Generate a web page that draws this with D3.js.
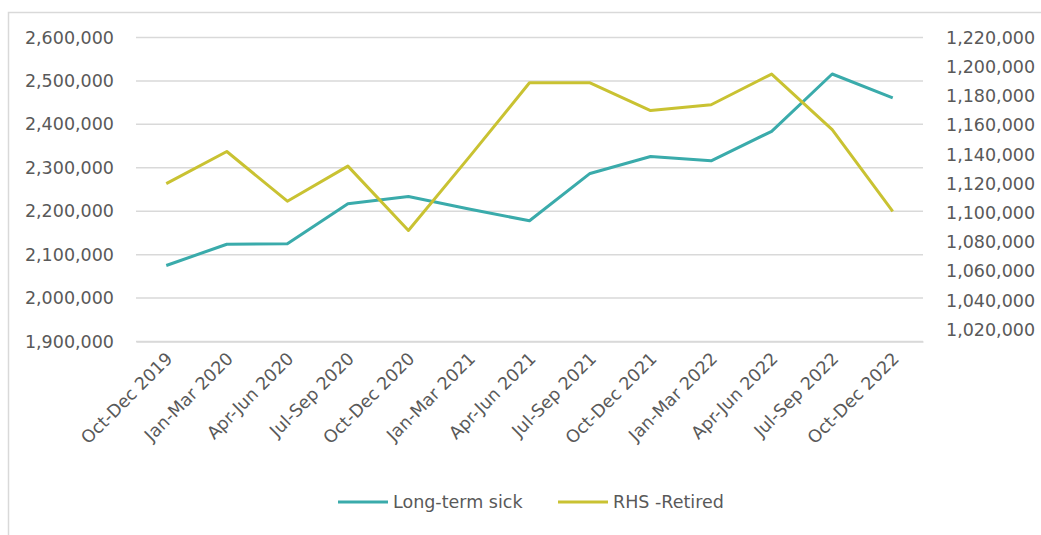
<!DOCTYPE html>
<html>
<head>
<meta charset="utf-8">
<script src="https://cdn.jsdelivr.net/npm/d3@7"></script>
<style>
  html, body { margin: 0; padding: 0; background: #fff; }
  svg { display: block; }
  text { font-family: "DejaVu Sans", sans-serif; fill: #595959; }
</style>
</head>
<body>
<svg id="chart" width="1041" height="535"></svg>
<script>
// Quarterly periods
const quarters = [
  "Oct-Dec 2019", "Jan-Mar 2020", "Apr-Jun 2020", "Jul-Sep 2020", "Oct-Dec 2020",
  "Jan-Mar 2021", "Apr-Jun 2021", "Jul-Sep 2021", "Oct-Dec 2021", "Jan-Mar 2022",
  "Apr-Jun 2022", "Jul-Sep 2022", "Oct-Dec 2022"
];

// Economically inactive: long-term sick (left axis)
const longTermSick = [
  2075000, 2124000, 2125000, 2217000, 2234000, 2205000, 2178000,
  2287000, 2326000, 2316000, 2384000, 2516000, 2461000
];

// Economically inactive: retired (right axis)
const retired = [
  1120000, 1142000, 1108000, 1132000, 1088000, 1138000, 1189000,
  1189000, 1170000, 1174000, 1195000, 1157000, 1101000
];

// Axis tick values
const leftTicks = [1900000, 2000000, 2100000, 2200000, 2300000, 2400000, 2500000, 2600000];
const rightTicks = [1020000, 1040000, 1060000, 1080000, 1100000, 1120000, 1140000,
                    1160000, 1180000, 1200000, 1220000];
const leftDomain = [1900000, 2600000];
const rightDomain = [1012000, 1220000];

const seriesNames = ["Long-term sick", "RHS -Retired"];
const colors = ["#3aabab", "#c9c232"];

const svg = d3.select("#chart");
const fmt = d3.format(",");
const fontSize = 17.5;

// Chart frame
svg.append("rect")
  .attr("x", 8.5).attr("y", 12.5)
  .attr("width", 1060).attr("height", 560)
  .attr("fill", "none").attr("stroke", "#d9d9d9").attr("stroke-width", 1.5);

const plot = { left: 136, right: 923, top: 37.5, bottom: 341.5 };

const x = d3.scaleBand().domain(quarters).range([plot.left, plot.right]);
const yL = d3.scaleLinear().domain(leftDomain).range([plot.bottom, plot.top]);
const yR = d3.scaleLinear().domain(rightDomain).range([plot.bottom, plot.top]);

// Horizontal gridlines
svg.append("g")
  .selectAll("line")
  .data(leftTicks)
  .join("line")
  .attr("x1", plot.left).attr("x2", plot.right)
  .attr("y1", d => yL(d)).attr("y2", d => yL(d))
  .attr("stroke", "#d9d9d9").attr("stroke-width", 1.5);

// Left axis labels
const leftAxis = d3.axisLeft(yL).tickValues(leftTicks).tickFormat(fmt).tickSize(0).tickPadding(22);
const gL = svg.append("g").attr("transform", `translate(${plot.left},0)`).call(leftAxis);
gL.select(".domain").remove();
gL.selectAll("text").attr("font-size", fontSize).attr("font-family", "DejaVu Sans").attr("fill", "#595959");

// Right axis labels
const rightAxis = d3.axisRight(yR).tickValues(rightTicks).tickFormat(fmt).tickSize(0).tickPadding(23);
const gR = svg.append("g").attr("transform", `translate(${plot.right},0)`).call(rightAxis);
gR.select(".domain").remove();
gR.selectAll("text").attr("font-size", fontSize).attr("font-family", "DejaVu Sans").attr("fill", "#595959");

// Category axis with rotated labels
const bottomAxis = d3.axisBottom(x).tickSize(0).tickPadding(0);
const gB = svg.append("g").attr("transform", `translate(0,${plot.bottom})`).call(bottomAxis);
gB.select(".domain").attr("stroke", "#d9d9d9").attr("stroke-width", 1.5);
gB.selectAll("text")
  .attr("font-size", fontSize).attr("font-family", "DejaVu Sans").attr("fill", "#595959")
  .attr("text-anchor", "end")
  .attr("transform", "translate(3,14) rotate(-45)")
  .attr("dy", "0.35em").attr("y", 0).attr("x", 0);

// Series lines
const cx = d => x(d) + x.bandwidth() / 2;
const lineL = d3.line().x((d, i) => cx(quarters[i])).y(d => yL(d));
const lineR = d3.line().x((d, i) => cx(quarters[i])).y(d => yR(d));

svg.append("path").datum(longTermSick)
  .attr("d", lineL).attr("fill", "none")
  .attr("stroke", colors[0]).attr("stroke-width", 3).attr("stroke-linejoin", "round");

svg.append("path").datum(retired)
  .attr("d", lineR).attr("fill", "none")
  .attr("stroke", colors[1]).attr("stroke-width", 3).attr("stroke-linejoin", "round");

// Legend
const legendItems = [
  { name: seriesNames[0], color: colors[0], x: 338 },
  { name: seriesNames[1], color: colors[1], x: 558 }
];
const lg = svg.append("g").selectAll("g").data(legendItems).join("g")
  .attr("transform", d => `translate(${d.x},502)`);
lg.append("line").attr("x1", 0).attr("x2", 50).attr("y1", 0).attr("y2", 0)
  .attr("stroke", d => d.color).attr("stroke-width", 3);
lg.append("text").attr("x", 55).attr("dy", "0.35em")
  .attr("font-size", fontSize).text(d => d.name);
</script>
</body>
</html>
